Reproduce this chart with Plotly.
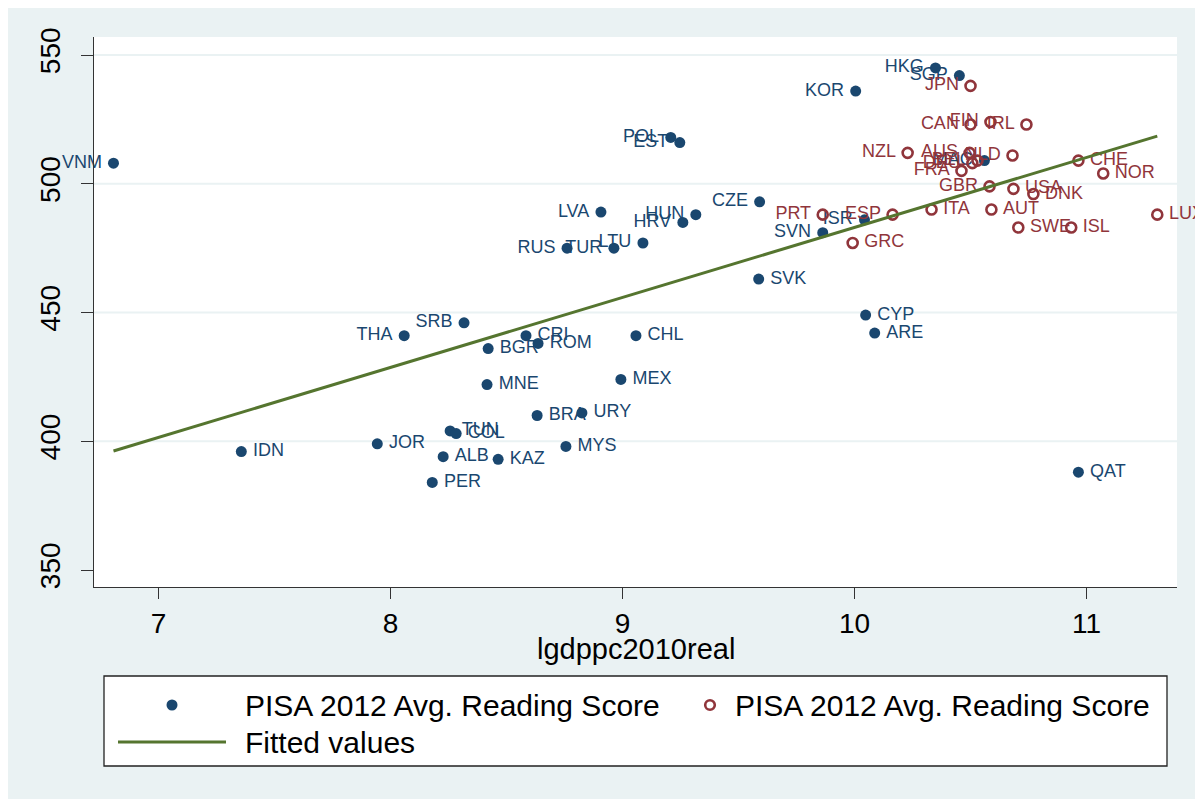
import plotly.graph_objects as go

# ---------------- data ----------------
blue_codes = ["HKG", "SGP", "KOR", "POL", "EST", "VNM", "MAC", "CZE", "LVA", "HUN",
              "HRV", "ISR", "SVN", "LTU", "TUR", "RUS", "SVK", "CYP", "ARE", "SRB",
              "THA", "CRI", "ROM", "CHL", "BGR", "MNE", "MEX", "BRA", "URY", "TUN",
              "COL", "JOR", "MYS", "IDN", "ALB", "KAZ", "PER", "QAT"]
blue_gdp = [10.349, 10.452, 10.005, 9.208, 9.247, 6.806, 10.560, 9.591, 8.907, 9.316,
            9.260, 10.043, 9.863, 9.088, 8.963, 8.761, 9.587, 10.048, 10.087, 8.317,
            8.059, 8.584, 8.636, 9.058, 8.421, 8.416, 8.993, 8.632, 8.825, 8.257,
            8.283, 7.943, 8.756, 7.357, 8.227, 8.464, 8.180, 10.965]
blue_read = [545, 542, 536, 518, 516, 508, 509, 493, 489, 488,
             485, 486, 481, 477, 475, 475, 463, 449, 442, 446,
             441, 441, 438, 441, 436, 422, 424, 410, 411, 404,
             403, 399, 398, 396, 394, 393, 384, 388]
blue_side = ["L", "L", "L", "L", "L", "L", "L", "L", "L", "L",
             "L", "L", "L", "L", "L", "L", "R", "R", "R", "L",
             "L", "R", "R", "R", "R", "R", "R", "R", "R", "R",
             "R", "R", "R", "R", "R", "R", "R", "R"]

red_codes = ["JPN", "CAN", "FIN", "IRL", "NZL", "AUS", "NLD", "BEL", "DEU", "FRA",
             "CHE", "NOR", "GBR", "USA", "DNK", "ITA", "AUT", "LUX", "SWE", "ISL",
             "GRC", "PRT", "ESP"]
red_gdp = [10.500, 10.500, 10.586, 10.741, 10.229, 10.496, 10.681, 10.530, 10.508, 10.461,
           10.965, 11.072, 10.582, 10.685, 10.771, 10.332, 10.590, 11.305, 10.706, 10.934,
           9.992, 9.863, 10.164]
red_read = [538, 523, 524, 523, 512, 512, 511, 509, 508, 505,
            509, 504, 499, 498, 496, 490, 490, 488, 483, 483,
            477, 488, 488]
red_side = ["L", "L", "L", "L", "L", "L", "L", "L", "L", "L",
            "R", "R", "L", "R", "R", "R", "R", "R", "R", "R",
            "R", "L", "L"]

fit_x = [6.806, 11.305]
fit_y = [396.2, 518.5]

x_ticks = [7, 8, 9, 10, 11]
y_ticks = [350, 400, 450, 500, 550]
grid_vals = [400, 450, 500, 550]

series_name = "PISA 2012 Avg. Reading Score"
fit_name = "Fitted values"
x_title = "lgdppc2010real"

# ---------------- style ----------------
NAVY = "#1A476F"
MAROON = "#90353B"
GREEN = "#55752F"
BG = "#EAF2F3"
AXC = "#333333"
FONT = "Liberation Sans, Arial, Helvetica, sans-serif"

OFF = 8  # page body margin
W, H = 1203, 799
L, T = 94 - OFF, 37 - OFF
PR, PB = 1177 - OFF, 587 - OFF   # right / bottom edge of plot area (figure px)
R, B = W - PR, H - PB
PW = PR - L
PH = PB - T


def px(xs):
    return (xs - OFF - L) / PW


def py(ys):
    return (PB - (ys - OFF)) / PH


def pos(sides):
    return ["middle left" if s == "L" else "middle right" for s in sides]


fig = go.Figure()

# blue filled markers
fig.add_trace(go.Scatter(x=blue_gdp, y=blue_read, mode="markers", name=series_name,
                         marker=dict(symbol="circle", size=11, color=NAVY),
                         showlegend=False, cliponaxis=False))
fig.add_trace(go.Scatter(x=blue_gdp, y=blue_read, mode="markers+text", text=blue_codes,
                         textposition=pos(blue_side),
                         textfont=dict(family=FONT, size=18, color=NAVY),
                         marker=dict(size=17, color="rgba(0,0,0,0)"),
                         hoverinfo="skip", showlegend=False, cliponaxis=False))
# red hollow markers
fig.add_trace(go.Scatter(x=red_gdp, y=red_read, mode="markers", name=series_name,
                         marker=dict(symbol="circle-open", size=10, color=MAROON,
                                     line=dict(width=2.6, color=MAROON)),
                         showlegend=False, cliponaxis=False))
fig.add_trace(go.Scatter(x=red_gdp, y=red_read, mode="markers+text", text=red_codes,
                         textposition=pos(red_side),
                         textfont=dict(family=FONT, size=18, color=MAROON),
                         marker=dict(size=17, color="rgba(0,0,0,0)"),
                         hoverinfo="skip", showlegend=False, cliponaxis=False))
# fitted line
fig.add_trace(go.Scatter(x=fit_x, y=fit_y, mode="lines", name=fit_name,
                         line=dict(color=GREEN, width=3), showlegend=False))

shapes = []
# gridlines
for g in grid_vals:
    shapes.append(dict(type="line", xref="paper", yref="y", x0=0, x1=1, y0=g, y1=g,
                       line=dict(color=BG, width=2.2), layer="below"))
# legend box
shapes.append(dict(type="rect", xref="paper", yref="paper", x0=px(104), x1=px(1167),
                   y0=py(766), y1=py(676), fillcolor="white",
                   line=dict(color="#222222", width=1.3), layer="above"))
# legend symbols
shapes.append(dict(type="circle", xref="paper", yref="paper", x0=px(172 - 5.5), x1=px(172 + 5.5),
                   y0=py(705 + 5.5), y1=py(705 - 5.5), fillcolor=NAVY, line=dict(width=0),
                   layer="above"))
shapes.append(dict(type="circle", xref="paper", yref="paper", x0=px(710 - 4.8), x1=px(710 + 4.8),
                   y0=py(705 + 4.8), y1=py(705 - 4.8), fillcolor="white",
                   line=dict(color=MAROON, width=2.6), layer="above"))
shapes.append(dict(type="line", xref="paper", yref="paper", x0=px(118), x1=px(226),
                   y0=py(742), y1=py(742), line=dict(color=GREEN, width=3), layer="above"))

annotations = [
    dict(text=series_name, xref="paper", yref="paper", x=px(243), y=py(705),
         xanchor="left", yanchor="middle", showarrow=False,
         font=dict(family=FONT, size=30, color="black")),
    dict(text=series_name, xref="paper", yref="paper", x=px(733), y=py(705),
         xanchor="left", yanchor="middle", showarrow=False,
         font=dict(family=FONT, size=30, color="black")),
    dict(text=fit_name, xref="paper", yref="paper", x=px(243), y=py(742),
         xanchor="left", yanchor="middle", showarrow=False,
         font=dict(family=FONT, size=30, color="black")),
    # x-axis title
    dict(text=x_title, xref="paper", yref="paper", x=0.5, y=py(649),
         xanchor="center", yanchor="middle", showarrow=False,
         font=dict(family=FONT, size=29, color="black")),
]

fig.update_layout(
    width=W, height=H,
    margin=dict(l=L, r=R, t=T, b=B, pad=0),
    paper_bgcolor=BG, plot_bgcolor="white",
    font=dict(family=FONT, color="black"),
    shapes=shapes, annotations=annotations,
    showlegend=False,
)
fig.update_xaxes(range=[6.722, 11.39], tickvals=x_ticks, ticktext=[str(v) for v in x_ticks],
                 showgrid=False, zeroline=False, showline=True, linecolor=AXC, linewidth=1.3,
                 ticks="outside", ticklen=11, tickwidth=1.3, tickcolor=AXC,
                 tickfont=dict(family=FONT, size=28, color="black"))
fig.update_yaxes(range=[343.4, 557.0], tickvals=y_ticks, ticktext=[str(v) for v in y_ticks],
                 showgrid=False, zeroline=False, showline=True, linecolor=AXC, linewidth=1.3,
                 ticks="outside", ticklen=12, tickwidth=1.3, tickcolor=AXC, tickangle=-90,
                 ticklabelstandoff=10,
                 tickfont=dict(family=FONT, size=28, color="black"))

fig.write_html("out.html")
